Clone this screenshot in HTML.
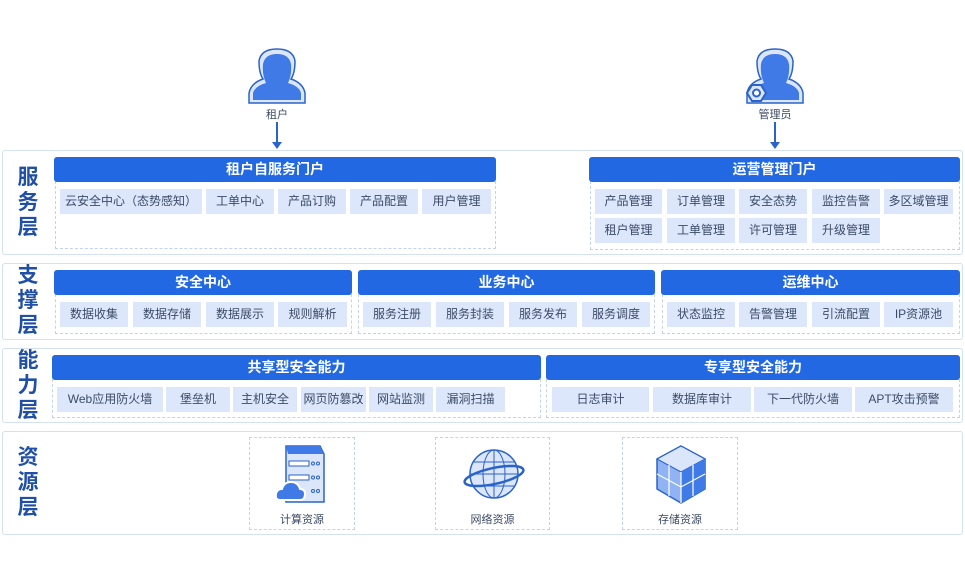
<!DOCTYPE html><html><head><meta charset="utf-8"><style>
*{margin:0;padding:0;box-sizing:border-box}
body{width:965px;height:583px;background:#fff;position:relative;font-family:"Liberation Sans","Noto Sans CJK SC",sans-serif;overflow:hidden}
.a{position:absolute}
.layer{position:absolute;left:2px;width:961px;border:1.5px solid #d3e0f5;border-radius:3px}
.lab{position:absolute;left:13px;width:30px;color:#1f4fa6;font-weight:bold;font-size:21px;line-height:25px;text-align:center}
.hd{position:absolute;height:25px;background:#2168e2;color:#fff;font-weight:bold;font-size:14px;line-height:25px;text-align:center;border-radius:3px}
.ds{position:absolute;border:1px dashed #c3d3ee;border-top:none}
.it{position:absolute;height:25px;background:#dce7fb;color:#3c4a66;font-size:12px;line-height:25px;text-align:center;white-space:nowrap}
.rb{position:absolute;border:1px dashed #c3d3ee;top:437px;height:93px}
.cap{position:absolute;font-size:11px;color:#3c4a66;text-align:center;width:100%;top:73px}
.arr{position:absolute;width:2px;background:#2a63c9}
.arr:after{content:"";position:absolute;left:-4px;bottom:-2px;border:5px solid transparent;border-top:7px solid #2a63c9;border-bottom:none}
.pl{position:absolute;font-size:11px;color:#3c4a66;width:60px;text-align:center}
</style></head><body>

<!-- persons -->
<svg class="a" style="left:247px;top:47px" width="60" height="58" viewBox="0 0 60 58">
<path d="M2 56 L2 46 Q4 36 16 32 Q12 26 12 14 Q14 2 30 2 Q46 2 48 14 Q48 26 44 32 Q56 36 58 46 L58 56 Z" fill="#dbe6fb" stroke="#2a63c9" stroke-width="1.5"/>
<path d="M6 53 L6 46 Q8 39 19 36 Q15 28 16 17 Q18 7 30 7 Q42 7 44 17 Q45 28 41 36 Q52 39 54 46 L54 53 Z" fill="#3f7ae6"/>
</svg>
<div class="pl" style="left:247px;top:106px">租户</div>
<div class="arr" style="left:276px;top:122px;height:25px"></div>

<svg class="a" style="left:745px;top:47px" width="60" height="58" viewBox="0 0 60 58">
<path d="M2 56 L2 46 Q4 36 16 32 Q12 26 12 14 Q14 2 30 2 Q46 2 48 14 Q48 26 44 32 Q56 36 58 46 L58 56 Z" fill="#dbe6fb" stroke="#2a63c9" stroke-width="1.5"/>
<path d="M6 53 L6 46 Q8 39 19 36 Q15 28 16 17 Q18 7 30 7 Q42 7 44 17 Q45 28 41 36 Q52 39 54 46 L54 53 Z" fill="#3f7ae6"/>
<polygon points="2,46 7,38 16,38 21,46 16,54 7,54" fill="#dbe6fb" stroke="#2a63c9" stroke-width="2"/>
<circle cx="11.5" cy="46" r="3.5" fill="#fff" stroke="#2a63c9" stroke-width="2"/>
</svg>
<div class="pl" style="left:745px;top:106px">管理员</div>
<div class="arr" style="left:774px;top:122px;height:25px"></div>

<!-- 服务层 -->
<div class="layer" style="top:150px;height:105px"></div>
<div class="lab" style="top:165px">服<br>务<br>层</div>
<div class="ds" style="left:55px;top:181px;width:441px;height:68px"></div>
<div class="hd" style="left:54px;top:157px;width:442px">租户自服务门户</div>
<div class="it" style="left:60px;top:189px;width:142px">云安全中心（态势感知）</div>
<div class="it" style="left:206px;top:189px;width:68px">工单中心</div>
<div class="it" style="left:278px;top:189px;width:68px">产品订购</div>
<div class="it" style="left:350px;top:189px;width:68px">产品配置</div>
<div class="it" style="left:422px;top:189px;width:69px">用户管理</div>

<div class="ds" style="left:590px;top:181px;width:370px;height:69px"></div>
<div class="hd" style="left:589px;top:157px;width:371px">运营管理门户</div>
<div class="it" style="left:595px;top:189px;width:67px">产品管理</div>
<div class="it" style="left:667px;top:189px;width:68px">订单管理</div>
<div class="it" style="left:739px;top:189px;width:68px">安全态势</div>
<div class="it" style="left:812px;top:189px;width:68px">监控告警</div>
<div class="it" style="left:884px;top:189px;width:69px">多区域管理</div>
<div class="it" style="left:595px;top:218px;width:67px">租户管理</div>
<div class="it" style="left:667px;top:218px;width:68px">工单管理</div>
<div class="it" style="left:739px;top:218px;width:68px">许可管理</div>
<div class="it" style="left:812px;top:218px;width:68px">升级管理</div>

<!-- 支撑层 -->
<div class="layer" style="top:263px;height:77px"></div>
<div class="lab" style="top:263px">支<br>撑<br>层</div>
<div class="ds" style="left:55px;top:294px;width:297px;height:40px"></div>
<div class="hd" style="left:54px;top:270px;width:298px">安全中心</div>
<div class="it" style="left:60px;top:302px;width:68px">数据收集</div>
<div class="it" style="left:133px;top:302px;width:68px">数据存储</div>
<div class="it" style="left:206px;top:302px;width:68px">数据展示</div>
<div class="it" style="left:278px;top:302px;width:69px">规则解析</div>
<div class="ds" style="left:358px;top:294px;width:297px;height:40px"></div>
<div class="hd" style="left:358px;top:270px;width:297px">业务中心</div>
<div class="it" style="left:363px;top:302px;width:68px">服务注册</div>
<div class="it" style="left:436px;top:302px;width:68px">服务封装</div>
<div class="it" style="left:509px;top:302px;width:68px">服务发布</div>
<div class="it" style="left:582px;top:302px;width:68px">服务调度</div>
<div class="ds" style="left:662px;top:294px;width:298px;height:40px"></div>
<div class="hd" style="left:661px;top:270px;width:299px">运维中心</div>
<div class="it" style="left:667px;top:302px;width:68px">状态监控</div>
<div class="it" style="left:739px;top:302px;width:68px">告警管理</div>
<div class="it" style="left:812px;top:302px;width:68px">引流配置</div>
<div class="it" style="left:884px;top:302px;width:69px">IP资源池</div>

<!-- 能力层 -->
<div class="layer" style="top:348px;height:75px"></div>
<div class="lab" style="top:348px">能<br>力<br>层</div>
<div class="ds" style="left:52px;top:379px;width:489px;height:39px"></div>
<div class="hd" style="left:52px;top:355px;width:489px">共享型安全能力</div>
<div class="it" style="left:57px;top:387px;width:106px">Web应用防火墙</div>
<div class="it" style="left:166px;top:387px;width:64px">堡垒机</div>
<div class="it" style="left:233px;top:387px;width:64px">主机安全</div>
<div class="it" style="left:301px;top:387px;width:65px">网页防篡改</div>
<div class="it" style="left:369px;top:387px;width:64px">网站监测</div>
<div class="it" style="left:436px;top:387px;width:69px">漏洞扫描</div>
<div class="ds" style="left:546px;top:379px;width:414px;height:39px"></div>
<div class="hd" style="left:546px;top:355px;width:414px">专享型安全能力</div>
<div class="it" style="left:552px;top:387px;width:97px">日志审计</div>
<div class="it" style="left:653px;top:387px;width:98px">数据库审计</div>
<div class="it" style="left:754px;top:387px;width:98px">下一代防火墙</div>
<div class="it" style="left:855px;top:387px;width:98px">APT攻击预警</div>

<!-- 资源层 -->
<div class="layer" style="top:431px;height:104px"></div>
<div class="lab" style="top:445px">资<br>源<br>层</div>
<div class="rb" style="left:249px;width:106px"><div class="cap">计算资源</div>
<svg class="a" style="left:26px;top:6px" width="56" height="62" viewBox="0 0 56 62">
<path d="M10 2 L44 2 L48 10 L48 58 L10 58 Z" fill="#dbe6fb" stroke="#2a63c9" stroke-width="1.5"/>
<path d="M10 2 L44 2 L48 10 L12 10 Z" fill="#3f7ae6"/>
<rect x="13" y="17" width="20" height="5" fill="#fff" stroke="#2a63c9"/><circle cx="37" cy="19.5" r="1.5" fill="none" stroke="#2a63c9"/><circle cx="42" cy="19.5" r="1.5" fill="none" stroke="#2a63c9"/>
<rect x="13" y="31" width="20" height="5" fill="#fff" stroke="#2a63c9"/><circle cx="37" cy="33.5" r="1.5" fill="none" stroke="#2a63c9"/><circle cx="42" cy="33.5" r="1.5" fill="none" stroke="#2a63c9"/>
<circle cx="37" cy="47" r="1.5" fill="none" stroke="#2a63c9"/><circle cx="42" cy="47" r="1.5" fill="none" stroke="#2a63c9"/>
<path d="M4 56 Q-1 56 0 50 Q1 45 6 45 Q8 38 15 38 Q22 38 24 45 Q29 45 29 50 Q29 56 24 56 Z" fill="#3f7ae6" stroke="#fff" stroke-width="2"/>
</svg></div>
<div class="rb" style="left:435px;width:115px"><div class="cap">网络资源</div>
<svg class="a" style="left:27px;top:8px" width="62" height="58" viewBox="0 0 62 58">
<circle cx="31" cy="28" r="24" fill="#dbe6fb" stroke="#2a63c9" stroke-width="1.5"/>
<ellipse cx="31" cy="28" rx="11" ry="24" fill="none" stroke="#2a63c9"/>
<line x1="31" y1="4" x2="31" y2="52" stroke="#2a63c9"/>
<line x1="7" y1="28" x2="55" y2="28" stroke="#2a63c9"/>
<path d="M10 16 H52 M10 40 H52" stroke="#2a63c9"/>
<ellipse cx="31" cy="30" rx="30" ry="8" transform="rotate(-12 31 30)" fill="none" stroke="#2a63c9" stroke-width="2.5"/>
</svg></div>
<div class="rb" style="left:622px;width:116px"><div class="cap">存储资源</div>
<svg class="a" style="left:30px;top:6px" width="56" height="62" viewBox="0 0 56 62">
<polygon points="28,2 52,15 52,45 28,59 4,45 4,15" fill="#8fb3f3" stroke="#2a63c9" stroke-width="1.5"/>
<polygon points="28,2 52,15 28,28 4,15" fill="#dbe6fb" stroke="#2a63c9"/>
<polygon points="28,28 52,15 52,45 28,59" fill="#3f7ae6"/>
<path d="M28 28 V59 M16 21 V52 M40 21 V52 M4 30 L28 43 L52 30" stroke="#fff" stroke-width="1.2" fill="none"/>
</svg></div>
</body></html>
